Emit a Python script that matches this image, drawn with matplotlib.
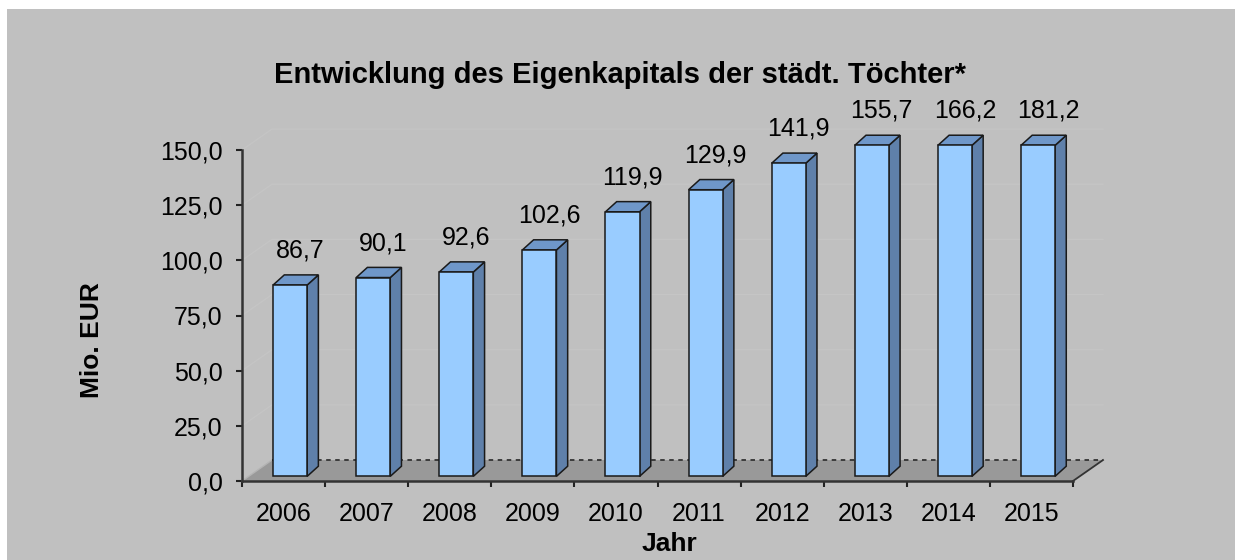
import matplotlib.pyplot as plt
from matplotlib.patches import Polygon, Rectangle

# chart data
years = ["2006", "2007", "2008", "2009", "2010", "2011", "2012", "2013", "2014", "2015"]
equity = [86.7, 90.1, 92.6, 102.6, 119.9, 129.9, 141.9, 155.7, 166.2, 181.2]
y_ticks = [0, 25, 50, 75, 100, 125, 150]

y_max = 150

plt.rcParams["font.family"] = ["Liberation Sans", "DejaVu Sans"]

W, H = 1235, 560
fig = plt.figure(figsize=(W / 100, H / 100), dpi=100, facecolor="white")
fig.patches.append(Rectangle((7 / W, 0), 1 - 7 / W, 1 - 9 / H, transform=fig.transFigure,
                             facecolor="#c0c0c0", edgecolor="none", zorder=-10))

ax = fig.add_axes([242 / W, 79 / H, 831 / W, 331 / H])
ax.set_facecolor("none")
ax.set_xlim(-0.5, len(years) - 0.5)
ax.set_ylim(0, y_max)

# fake 3d geometry (in data units)
depth_dx, depth_dy = 0.361, 9.5     # floor depth
shift_x, shift_y = 0.079, 2.1       # front plane of the bars
bar_w = 0.41
bar_dx, bar_dy = 0.135, 4.6         # bar depth

x0, x1 = -0.5, len(years) - 0.5

# back wall / side wall gridlines (very faint)
for v in y_ticks[1:]:
    ax.plot([x0, x0 + depth_dx, x1 + depth_dx], [v, v + depth_dy, v + depth_dy],
            color="#c5c5c5", lw=0.9, clip_on=False, zorder=1)

# floor
floor = Polygon([(x0, 0), (x1, 0), (x1 + depth_dx, depth_dy), (x0 + depth_dx, depth_dy)],
                closed=True, facecolor="#999999", edgecolor="none", clip_on=False, zorder=2)
ax.add_patch(floor)
ax.plot([x0, x0 + depth_dx], [0, depth_dy], color="#b4b4b4", lw=1, clip_on=False, zorder=2)
ax.plot([x0 + depth_dx, x1 + depth_dx], [depth_dy, depth_dy], color="#333333", lw=1.3,
        ls=(0, (2.5, 2.5)), clip_on=False, zorder=2)
ax.plot([x1, x1 + depth_dx], [0, depth_dy], color="#333333", lw=1.3, clip_on=False, zorder=2)

front_c, top_c, side_c, edge_c = "#99ccff", "#6f97c9", "#5f80aa", "#1a1a1a"

for i, v in enumerate(equity):
    h = min(v, y_max)
    l = i - bar_w / 2 + shift_x
    r = l + bar_w
    b = shift_y
    t = shift_y + h
    front = Polygon([(l, b), (r, b), (r, t), (l, t)], closed=True)
    side = Polygon([(r, b), (r + bar_dx, b + bar_dy), (r + bar_dx, t + bar_dy), (r, t)], closed=True)
    top = Polygon([(l, t), (r, t), (r + bar_dx, t + bar_dy), (l + bar_dx, t + bar_dy)], closed=True)
    for p, c in ((side, side_c), (top, top_c), (front, front_c)):
        p.set_facecolor(c)
        p.set_edgecolor(edge_c)
        p.set_linewidth(1.1)
        p.set_clip_on(False)
        p.set_zorder(3)
        ax.add_patch(p)
    label = f"{v:.1f}".replace(".", ",")
    ax.text(i + shift_x + 0.12, t + bar_dy + 11, label, ha="center", va="center",
            fontsize=18, color="black", zorder=4)

# axes styling
for s in ("top", "right"):
    ax.spines[s].set_visible(False)
for s in ("left", "bottom"):
    ax.spines[s].set_color("#333333")
    ax.spines[s].set_linewidth(1.8)

ax.set_yticks(y_ticks)
ax.set_yticklabels([f"{v:.1f}".replace(".", ",") for v in y_ticks])
ax.tick_params(axis="y", direction="out", length=4, width=1.5, color="#222222",
               labelsize=18, pad=10)

ax.set_xticks(range(len(years)))
ax.set_xticklabels(years)
ax.set_xticks([k - 0.5 for k in range(len(years) + 1)], minor=True)
ax.tick_params(axis="x", which="major", length=0, labelsize=18, pad=15)
ax.tick_params(axis="x", which="minor", direction="out", length=4.5, width=1.5, color="#222222")

fig.text(620 / W, 1 - 83 / H, "Entwicklung des Eigenkapitals der städt. Töchter*",
         ha="center", va="baseline", fontsize=21, fontweight="bold")
fig.text(92 / W, 1 - 340 / H, "Mio. EUR", rotation=90, ha="center", va="center",
         fontsize=19, fontweight="bold")
fig.text(669 / W, 1 - 544 / H, "Jahr", ha="center", va="center",
         fontsize=19, fontweight="bold")

fig.savefig("out.png", dpi=100, facecolor="white")
